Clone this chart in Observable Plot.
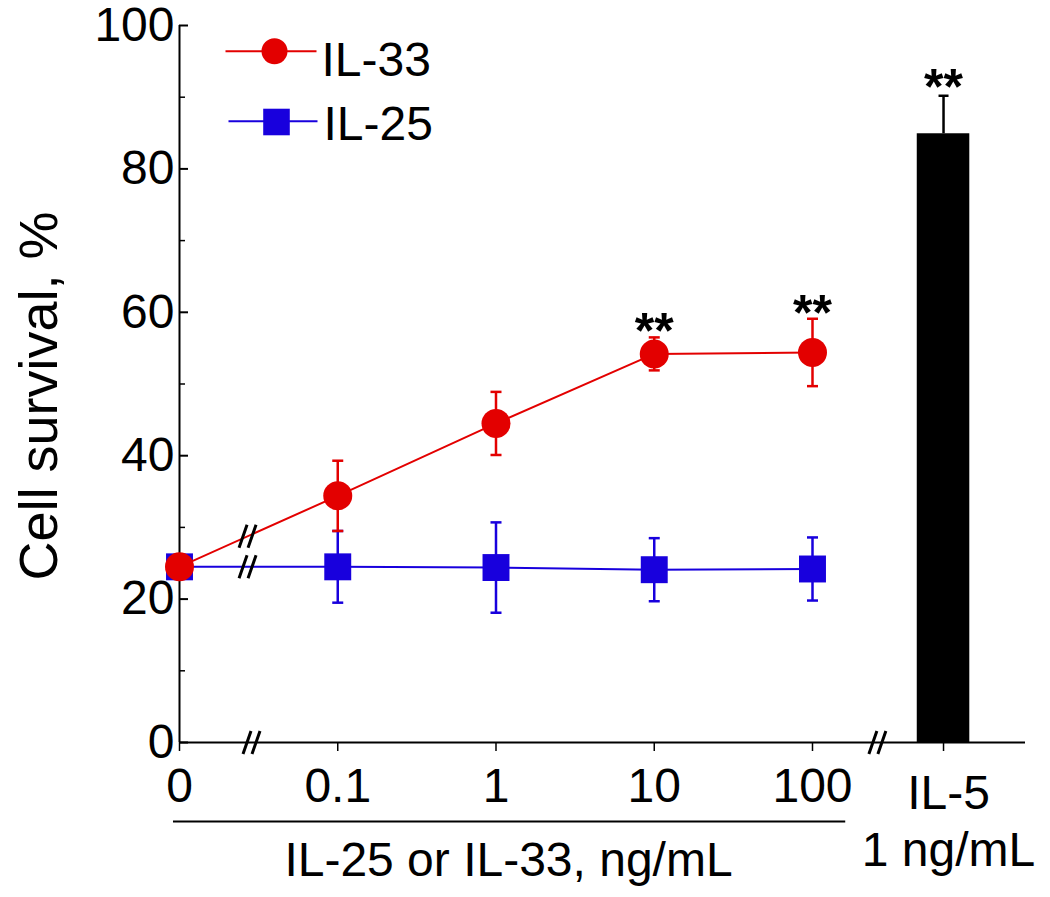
<!DOCTYPE html>
<html><head><meta charset="utf-8">
<script src="https://cdn.jsdelivr.net/npm/d3@7"></script>
<script src="https://cdn.jsdelivr.net/npm/@observablehq/plot@0.6"></script>
<style>body{margin:0;background:#fff}#chart svg{display:block}</style>
</head><body><div id="chart"></div>
<script>
// ---- data ----
const doseLabels = ["0", "0.1", "1", "10", "100"];
const il33Mean = [24.5, 34.4, 44.5, 54.2, 54.4];
const il33Err  = [0, 4.9, 4.4, 2.3, 4.7];
const il25Mean = [24.5, 24.5, 24.4, 24.1, 24.2];
const il25Err  = [0, 5.0, 6.3, 4.4, 4.4];
const il5Labels = ["IL-5", "1 ng/mL"];
const il5Mean = [84.9];
const il5Err = [5.3];
const seriesNames = ["IL-33", "IL-25"];
const sigDoses = [3, 4];          // doses of IL-33 marked **
const sigMark = "**";
const xTitle = "IL-25 or IL-33, ng/mL";
const yTitle = "Cell survival, %";
const yTicks = [0, 20, 40, 60, 80, 100];
const yMinor = [10, 30, 50, 70, 90];

// ---- layout ----
const RED = "#e30000", BLUE = "#1800dd";
const xMax = 5.346, il5Pos = 4.828, barHalf = 0.166;
const FONT = "'Liberation Sans', Arial, Helvetica, sans-serif";

const il33 = doseLabels.map((d, i) => ({i, mean: il33Mean[i], err: il33Err[i]}));
const il25 = doseLabels.map((d, i) => ({i, mean: il25Mean[i], err: il25Err[i]}));
const il5 = il5Mean.map((m, k) => ({pos: il5Pos, mean: m, err: il5Err[k]}));

const hline = half => ({draw(ctx) { ctx.moveTo(-half, 0); ctx.lineTo(half, 0); }});
// axis-break symbol: two slanted strokes
const breakSym = {draw(ctx) {
  for (const c of [-4.5, 4.5]) { ctx.moveTo(c - 4, 11.5); ctx.lineTo(c + 4, -11.5); }
}};
const caps = arr => arr.filter(d => d.err > 0).flatMap(d => [
  {x: d.i, y: d.mean + d.err}, {x: d.i, y: d.mean - d.err}]);

function errMarks(arr, color) {
  const e = arr.filter(d => d.err > 0);
  return [
    Plot.ruleX(e, {x: "i", y1: d => d.mean - d.err, y2: d => d.mean + d.err, stroke: color, strokeWidth: 2.5}),
    Plot.dot(caps(arr), {x: "x", y: "y", symbol: hline(5.5), stroke: color, strokeWidth: 2.5, fill: "none"})
  ];
}

// break-mark positions (annotation, on the segment 0 -> 0.1)
const bx = 0.43;
const lerp = (a, b, t) => a + (b - a) * t;
const lineBreaks = [
  {x: bx, y: lerp(il33Mean[0], il33Mean[1], bx)},
  {x: bx, y: lerp(il25Mean[0], il25Mean[1], bx)}
];
const axisBreaks = [{x: 0.455, y: 0}, {x: 4.41, y: 0}];
const breakStyle = {symbol: breakSym, stroke: "black", strokeWidth: 3, fill: "none"};

const plot = Plot.plot({
  width: 1050, height: 897,
  marginLeft: 179, marginRight: 25, marginTop: 25, marginBottom: 155,
  style: {fontFamily: FONT, background: "white", color: "black", overflow: "visible"},
  x: {domain: [0, xMax], axis: null},
  y: {domain: [0, 100], axis: null},
  marks: [
    // IL-5 bar
    Plot.rectY(il5, {x1: d => d.pos - barHalf, x2: d => d.pos + barHalf, y1: 0, y2: "mean", fill: "black"}),
    Plot.ruleX(il5, {x: "pos", y1: "mean", y2: d => d.mean + d.err, stroke: "black", strokeWidth: 2.5}),
    Plot.dot(il5, {x: "pos", y: d => d.mean + d.err, symbol: hline(5), stroke: "black", strokeWidth: 2.5, fill: "none"}),
    Plot.text(il5, {x: "pos", y: d => d.mean + d.err, text: () => sigMark, lineAnchor: "bottom", dy: 8, fontSize: 50, fontWeight: "bold"}),

    // axes
    Plot.ruleX([0], {stroke: "black", strokeWidth: 2}),
    Plot.ruleY([0], {stroke: "black", strokeWidth: 2}),
    Plot.axisY(yTicks, {tickSize: 9, dx: 9, tickFormat: () => "", strokeWidth: 2}),
    Plot.axisY(yMinor, {tickSize: 6, dx: 6, tickFormat: () => "", strokeWidth: 1.5}),
    Plot.axisY(yTicks, {tickSize: 0, tickPadding: 5, fontSize: 48}),
    Plot.axisX([0, 1, 2, 3, 4], {tickSize: 9, tickPadding: 16, tickFormat: i => doseLabels[i], fontSize: 48, strokeWidth: 1.5}),
    Plot.axisX([il5Pos], {tickSize: 9, tickFormat: () => "", strokeWidth: 1.5}),
    Plot.text([il5Labels[0]], {x: il5Pos, frameAnchor: "bottom", lineAnchor: "bottom", dx: 5, dy: 66, fontSize: 48}),
    Plot.text([il5Labels[1]], {x: il5Pos, frameAnchor: "bottom", lineAnchor: "bottom", dx: 5, dy: 123, fontSize: 48}),
    Plot.dot(axisBreaks, {x: "x", y: "y", ...breakStyle}),

    // x title with bracket line
    Plot.ruleY([0], {x1: -0.038, x2: 4.21, dy: 79, stroke: "black", strokeWidth: 2}),
    Plot.text([xTitle], {x: 2.079, frameAnchor: "bottom", lineAnchor: "bottom", dy: 133, fontSize: 48}),
    // y title
    Plot.text([yTitle], {frameAnchor: "left", textAnchor: "middle", dx: -140, dy: 12, rotate: -90, fontSize: 54}),

    // IL-25 series
    Plot.line(il25, {x: "i", y: "mean", stroke: BLUE, strokeWidth: 2}),
    ...errMarks(il25, BLUE),
    Plot.dot(il25, {x: "i", y: "mean", symbol: "square", r: 15.2, fill: BLUE, stroke: "none"}),

    // IL-33 series
    Plot.line(il33, {x: "i", y: "mean", stroke: RED, strokeWidth: 2}),
    ...errMarks(il33, RED),
    Plot.dot(il33, {x: "i", y: "mean", r: 14.5, fill: RED, stroke: "none"}),
    Plot.text(sigDoses.map(i => il33[i]), {x: "i", y: d => d.mean + d.err, text: () => sigMark, lineAnchor: "bottom", dy: 11, fontSize: 50, fontWeight: "bold"}),

    // line break marks
    Plot.dot(lineBreaks, {x: "x", y: "y", ...breakStyle}),

    // legend
    Plot.dot([0], {frameAnchor: "top-left", dx: 91.5, dy: 25.7, symbol: hline(45.5), stroke: RED, strokeWidth: 2, fill: "none"}),
    Plot.dot([0], {frameAnchor: "top-left", dx: 95, dy: 25.7, r: 13, fill: RED, stroke: "none"}),
    Plot.text([seriesNames[0]], {frameAnchor: "top-left", dx: 142, dy: 50, textAnchor: "start", lineAnchor: "bottom", fontSize: 48}),
    Plot.dot([0], {frameAnchor: "top-left", dx: 93.5, dy: 95.7, symbol: hline(44.5), stroke: BLUE, strokeWidth: 2, fill: "none"}),
    Plot.dot([0], {frameAnchor: "top-left", dx: 97, dy: 96.5, symbol: "square", r: 15, fill: BLUE, stroke: "none"}),
    Plot.text([seriesNames[1]], {frameAnchor: "top-left", dx: 144, dy: 114, textAnchor: "start", lineAnchor: "bottom", fontSize: 48})
  ]
});
document.getElementById("chart").appendChild(plot);
</script>
</body></html>
